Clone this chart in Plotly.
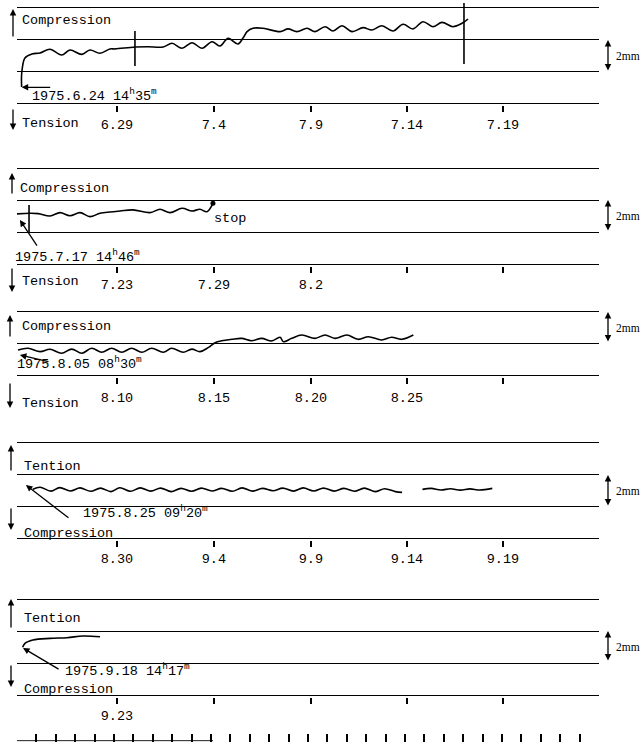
import plotly.graph_objects as go

W, H = 641, 743

# ---------------- data (x: days from panel start, y: strain in mm) ----------------
p1_days = [0.24, 0.23, 0.26, 0.41, 0.77, 1.19, 1.70, 2.30, 2.73, 3.34, 3.76, 4.28, 4.79, 5.05,
           6.08, 6.75, 7.53, 7.99, 8.51, 9.02, 9.54, 10.05, 10.46, 10.88, 11.39, 11.65, 11.86,
           12.16, 12.68, 13.56, 13.97, 14.43, 14.95, 15.36, 15.88, 16.29, 16.75, 17.27, 17.84,
           18.30, 18.81, 19.38, 19.90, 20.41, 20.93, 21.44, 21.91, 22.47, 22.94, 23.25]
p1_mm = [-1.0, -0.44, 0.06, 0.81, 1.06, 1.13, 1.36, 1.0, 1.31, 1.04, 1.31, 1.11, 1.38, 1.38,
         1.5, 1.52, 1.5, 1.73, 1.42, 1.77, 1.42, 1.83, 1.56, 2.04, 1.69, 2.06, 2.46,
         2.67, 2.67, 2.46, 2.63, 2.46, 2.67, 2.46, 2.77, 2.5, 2.83, 2.46, 2.71,
         2.56, 2.83, 2.5, 2.92, 2.63, 3.08, 2.77, 3.04, 2.77, 2.98, 3.25]
p1_marker_a_days = [6.08, 6.08]
p1_marker_a_mm = [0.31, 2.5]
p1_marker_b_days = [23.04, 23.04]
p1_marker_b_mm = [0.44, 4.25]

p2_days = [0.0, 0.67, 1.1, 1.70, 2.22, 2.73, 3.25, 3.76, 4.28, 4.79, 5.31, 5.98, 6.86, 7.37,
           7.89, 8.51, 9.02, 9.43, 9.79, 10.10]
p2_mm = [1.13, 1.17, 1.15, 1.0, 1.21, 1.02, 1.21, 0.96, 1.17, 1.25, 1.31, 1.38, 1.21, 1.42,
         1.21, 1.48, 1.31, 1.42, 1.27, 1.79]
p2_marker_days = [0.62, 0.62]
p2_marker_mm = [0.0, 1.69]
p2_stop_day = [10.10]
p2_stop_mm = [1.79]

p3_days = [0.05, 0.57, 1.19, 1.70, 2.30, 2.82, 3.34, 3.85, 4.37, 4.88, 5.40, 5.91, 6.43, 6.94,
           7.54, 7.97, 8.57, 9.01, 9.43, 9.85, 10.21, 10.55, 11.07, 11.58, 12.09, 12.61, 13.13,
           13.56, 13.73, 14.16, 14.68, 15.36, 15.88, 16.39, 17.0, 17.59, 18.11, 18.80, 19.31,
           19.83, 20.43]
p3_mm = [-0.44, -0.33, -0.54, -0.39, -0.64, -0.38, -0.64, -0.33, -0.58, -0.33, -0.58, -0.33,
         -0.58, -0.33, -0.58, -0.33, -0.58, -0.38, -0.54, -0.29, 0.02, 0.14, 0.23, 0.29, 0.14,
         0.29, 0.13, 0.36, 0.08, 0.29, 0.5, 0.29, 0.5, 0.29, 0.5, 0.23, 0.39, 0.19, 0.36,
         0.23, 0.5]

p4_days = [0.82, 1.19, 1.75, 2.2, 2.75, 3.25, 3.8, 4.3, 4.85, 5.3, 5.85, 6.35, 6.9, 7.4, 7.95,
           8.45, 9.0, 9.5, 10.05, 10.55, 11.1, 11.6, 12.15, 12.65, 13.2, 13.7, 14.25, 14.75,
           15.3, 15.8, 16.35, 16.85, 17.4, 17.9, 18.45, 18.95, 19.5, 19.85]
p4_mm = [1.05, 1.17, 0.93, 1.15, 0.94, 1.13, 0.92, 1.12, 0.9, 1.14, 0.92, 1.13, 0.93, 1.12, 0.9,
         1.1, 0.92, 1.12, 0.94, 1.1, 0.92, 1.13, 0.93, 1.1, 0.95, 1.12, 0.93, 1.13,
         0.94, 1.12, 0.93, 1.1, 0.92, 1.12, 0.9, 1.08, 0.9, 0.85]
p4b_days = [20.9, 21.35, 21.85, 22.35, 22.85, 23.35, 23.85, 24.5]
p4b_mm = [1.04, 1.1, 1.0, 1.08, 0.99, 1.07, 1.0, 1.1]

p5_days = [0.29, 0.41, 0.82, 1.70, 2.58, 3.40, 4.28]
p5_mm = [0.98, 1.23, 1.44, 1.54, 1.58, 1.69, 1.64]

tick_days = [5.15, 10.15, 15.15, 20.1, 25.05]
tick_labels = [
    ["6.29", "7.4", "7.9", "7.14", "7.19"],
    ["7.23", "7.29", "8.2", "", ""],
    ["8.10", "8.15", "8.20", "8.25", ""],
    ["8.30", "9.4", "9.9", "9.14", "9.19"],
    ["9.23", "", "", "", ""],
]
ruler_days = list(range(0, 31))
ruler_base_days = [0.0, 10.1]
ruler_base_y = [0.08, 0.08]

grid_levels = [[-2, 0, 2, 4], [-2, 0, 2, 4], [-2, 0, 2], [-2, 0, 2, 4], [-2, 0, 2, 4]]

# ---------------- layout geometry ----------------
X_LEFT, X_RIGHT = 17, 599
PX_PER_MM = 16
zero_px = [71, 232, 343, 506, 663]
y_ranges = [[-2.1, 4.3], [-2.1, 4.1], [-2.1, 2.1], [-2.1, 4.1], [-2.1, 4.1]]
label_standoff = [1, 0, 2, 0, 0]
FONT = "Liberation Mono, Courier New, monospace"


def px(x):
    return x / W


def py(y):
    return 1 - y / H


fig = go.Figure()
layout = dict(width=W, height=H, margin=dict(l=0, r=0, t=0, b=0),
              paper_bgcolor="white", plot_bgcolor="rgba(0,0,0,0)", showlegend=False)

for i in range(5):
    n = "" if i == 0 else str(i + 1)
    lo, hi = y_ranges[i]
    top = zero_px[i] - hi * PX_PER_MM
    bot = zero_px[i] - lo * PX_PER_MM
    layout["yaxis" + n] = dict(domain=[py(bot), py(top)], range=[lo, hi], tickvals=grid_levels[i],
                               showgrid=True, gridcolor="black", gridwidth=1.4,
                               showticklabels=False, zeroline=False, showline=False, ticks="",
                               anchor="x" + n)
    layout["xaxis" + n] = dict(domain=[px(X_LEFT), px(X_RIGHT)], range=[0, 30], anchor="y" + n,
                               tickvals=tick_days, ticktext=tick_labels[i], ticks="outside",
                               ticklen=6, tickwidth=1.5, tickcolor="black", showgrid=False,
                               zeroline=False, showline=False,
                               tickfont=dict(family=FONT, size=13.5, color="black"),
                               ticklabelstandoff=label_standoff[i])

# ruler axis
layout["yaxis6"] = dict(domain=[py(741.5), py(732)], range=[0, 1], visible=False, anchor="x6")
layout["xaxis6"] = dict(domain=[px(X_LEFT), px(X_RIGHT)], range=[0, 30], anchor="y6",
                        tickvals=ruler_days, ticks="inside", ticklen=8, tickwidth=1.5,
                        tickcolor="black", showticklabels=False, showgrid=False,
                        zeroline=False, showline=False)

line_style = dict(color="black", width=1.6, shape="spline", smoothing=1.0)
straight = dict(color="black", width=1.6)


def add(xs, ys, idx, style, mode="lines", marker=None):
    n = "" if idx == 0 else str(idx + 1)
    fig.add_trace(go.Scatter(x=xs, y=ys, mode=mode, line=style, marker=marker,
                             xaxis="x" + n, yaxis="y" + n, hoverinfo="skip"))


add(p1_days, p1_mm, 0, line_style)
add(p1_marker_a_days, p1_marker_a_mm, 0, straight)
add(p1_marker_b_days, p1_marker_b_mm, 0, straight)
add(p2_days, p2_mm, 1, line_style)
add(p2_marker_days, p2_marker_mm, 1, straight)
add(p2_stop_day, p2_stop_mm, 1, straight, mode="markers", marker=dict(color="black", size=5))
add(p3_days, p3_mm, 2, line_style)
add(p4_days, p4_mm, 3, line_style)
add(p4b_days, p4b_mm, 3, line_style)
add(p5_days, p5_mm, 4, line_style)
add(ruler_base_days, ruler_base_y, 5, dict(color="black", width=1.2))

ann = []


def text(t, x, y, size=13.5, family=FONT, xanchor="left"):
    ann.append(dict(text=t, x=px(x), y=py(y), xref="paper", yref="paper", showarrow=False,
                    xanchor=xanchor, yanchor="middle",
                    font=dict(family=family, size=size, color="black")))


labels = [
    ("Compression", 20, 20), ("Tension", 20, 123), ("1975.6.24 14<sup>h</sup>35<sup>m</sup>", 30, 95),
    ("Compression", 18, 189), ("Tension", 20, 282), ("1975.7.17 14<sup>h</sup>46<sup>m</sup>", 13, 256),
    ("stop", 212, 218),
    ("Compression", 20, 327), ("Tension", 20, 403), ("1975.8.05 08<sup>h</sup>30<sup>m</sup>", 15, 363),
    ("Tention", 22, 466), ("Compression", 22, 533), ("1975.8.25 09<sup>h</sup>20<sup>m</sup>", 81, 512),
    ("Tention", 22, 618), ("Compression", 22, 689), ("1975.9.18 14<sup>h</sup>17<sup>m</sup>", 63, 670),
]
for t, x, y in labels:
    text(t, x, y)

# side direction arrows (x_px, head_y, tail_y)
side_arrows = [(13, 9, 38), (13, 130, 108), (12, 173, 195), (12, 292, 267), (10, 315, 338),
               (10, 408, 382), (11, 445, 472), (11, 530, 507), (11, 599, 629), (11, 687, 664)]
for x, hy, ty in side_arrows:
    ann.append(dict(text="", x=px(x), y=py(hy), xref="paper", yref="paper", showarrow=True,
                    ax=0, ay=ty - hy, arrowhead=2, arrowsize=1, arrowwidth=1.3,
                    arrowcolor="black", standoff=0, startstandoff=0))

# 2 mm scale arrows (top_y, bottom_y)
scale_arrows = [(40, 72), (200, 232), (312, 343), (475, 507), (631, 662)]
for ty, by in scale_arrows:
    ann.append(dict(text="", x=px(608), y=py(ty), xref="paper", yref="paper", showarrow=True,
                    ax=0, ay=by - ty, arrowhead=2, arrowside="end+start", arrowsize=1,
                    arrowwidth=1.3, arrowcolor="black", standoff=0, startstandoff=0))
    text("2mm", 614, (ty + by) / 2, size=11.5, family="Liberation Serif, Times New Roman, serif")

# arrows pointing to start of each record (panel, tip_day, tip_mm, tail_day, tail_mm)
start_arrows = [(0, 0.24, -1.02, 1.79, -1.02), (1, 0.15, 0.75, 1.08, -0.94),
                (2, 0.15, -0.75, 1.70, -1.19), (3, 0.46, 1.31, 2.73, -0.81),
                (4, 0.31, 0.94, 2.22, -0.44)]
for i, tx, ty, sx, sy in start_arrows:
    n = "" if i == 0 else str(i + 1)
    ann.append(dict(text="", x=tx, y=ty, xref="x" + n, yref="y" + n, ax=sx, ay=sy,
                    axref="x" + n, ayref="y" + n, showarrow=True, arrowhead=2, arrowsize=1,
                    arrowwidth=1.3, arrowcolor="black", standoff=0))

layout["annotations"] = ann
fig.update_layout(**layout)
fig.write_html("out.html", config={"displayModeBar": False},
               post_script="document.body.style.margin='0px';document.body.style.padding='0px';")
